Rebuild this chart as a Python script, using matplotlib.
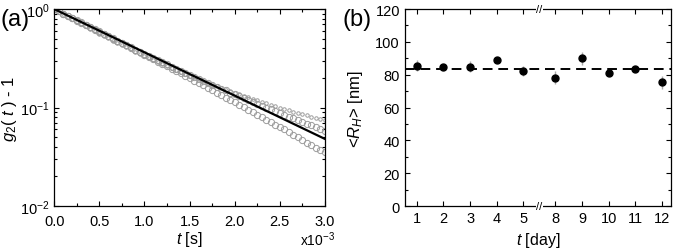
import numpy as np
import matplotlib
matplotlib.use("Agg")
import matplotlib.pyplot as plt
from matplotlib.ticker import MultipleLocator, LogLocator, NullFormatter, FuncFormatter

plt.rcParams['font.family'] = ['Liberation Sans', 'DejaVu Sans']
plt.rcParams['mathtext.fontset'] = 'custom'
plt.rcParams['mathtext.rm'] = 'Liberation Sans'
plt.rcParams['mathtext.it'] = 'Liberation Sans:italic'

# ---- panel (a): correlation functions, t in ms (axis shown x10^-3 s)
t_ms = [0.00, 0.05, 0.10, 0.15, 0.20, 0.25, 0.30, 0.35, 0.40, 0.45,
        0.50, 0.55, 0.60, 0.65, 0.70, 0.75, 0.80, 0.85, 0.90, 0.95,
        1.00, 1.05, 1.10, 1.15, 1.20, 1.25, 1.30, 1.35, 1.40, 1.45,
        1.50, 1.55, 1.60, 1.65, 1.70, 1.75, 1.80, 1.85, 1.90, 1.95,
        2.00, 2.05, 2.10, 2.15, 2.20, 2.25, 2.30, 2.35, 2.40, 2.45,
        2.50, 2.55, 2.60, 2.65, 2.70, 2.75, 2.80, 2.85, 2.90, 2.95, 3.00]

g_top = [1.000, 0.942, 0.887, 0.836, 0.789, 0.744, 0.703, 0.665, 0.628, 0.594,
         0.562, 0.532, 0.505, 0.479, 0.454, 0.431, 0.409, 0.389, 0.370, 0.352,
         0.335, 0.319, 0.304, 0.290, 0.277, 0.264, 0.252, 0.241, 0.231, 0.221,
         0.211, 0.202, 0.194, 0.186, 0.179, 0.172, 0.165, 0.158, 0.152, 0.147,
         0.141, 0.136, 0.131, 0.127, 0.122, 0.118, 0.114, 0.110, 0.107, 0.103,
         0.100, 0.097, 0.094, 0.091, 0.089, 0.086, 0.084, 0.081, 0.079, 0.077, 0.075]

g_mid = [1.000, 0.947, 0.896, 0.849, 0.804, 0.762, 0.723, 0.685, 0.650, 0.616,
         0.585, 0.555, 0.527, 0.500, 0.475, 0.451, 0.429, 0.408, 0.388, 0.369,
         0.351, 0.334, 0.317, 0.302, 0.288, 0.274, 0.261, 0.249, 0.237, 0.226,
         0.216, 0.206, 0.196, 0.187, 0.179, 0.171, 0.163, 0.156, 0.149, 0.142,
         0.136, 0.130, 0.124, 0.119, 0.114, 0.109, 0.104, 0.100, 0.096, 0.092,
         0.088, 0.084, 0.081, 0.078, 0.074, 0.071, 0.068, 0.066, 0.063, 0.061, 0.058]

g_low = [1.000, 0.950, 0.901, 0.855, 0.812, 0.770, 0.731, 0.694, 0.658, 0.624,
         0.592, 0.561, 0.532, 0.504, 0.478, 0.453, 0.429, 0.406, 0.385, 0.364,
         0.345, 0.327, 0.309, 0.293, 0.277, 0.262, 0.248, 0.235, 0.222, 0.210,
         0.199, 0.188, 0.178, 0.168, 0.159, 0.150, 0.142, 0.134, 0.126, 0.119,
         0.113, 0.106, 0.101, 0.095, 0.090, 0.085, 0.080, 0.075, 0.071, 0.067,
         0.063, 0.060, 0.056, 0.053, 0.050, 0.047, 0.044, 0.042, 0.039, 0.037, 0.035]

fit_t_ms = [0.0, 3.0]
fit_g = [1.0, 0.048]

# ---- panel (b): hydrodynamic radius over days
days = ['1', '2', '3', '4', '5', '8', '9', '10', '11', '12']
rh = [85.5, 84.7, 84.9, 89.0, 82.5, 78.2, 90.0, 81.0, 83.7, 75.4]
rh_err = [3.2, 1.5, 3.5, 1.0, 3.0, 3.8, 3.8, 2.0, 1.5, 4.0]
rh_mean = 83.5

fig = plt.figure(figsize=(6.77, 2.51), dpi=100)
axa = fig.add_axes([0.080, 0.175, 0.400, 0.785])
axb = fig.add_axes([0.598, 0.175, 0.393, 0.785])

gray = '#9c9c9c'
axa.plot(t_ms, g_top, 'o', ms=2.5, mfc='none', mec=gray, mew=0.7)
axa.plot(t_ms, g_mid, 'o', ms=4.5, mfc='none', mec=gray, mew=0.7)
axa.plot(t_ms, g_low, 'o', ms=4.5, mfc='none', mec=gray, mew=0.7)
axa.plot(fit_t_ms, fit_g, '-', color='black', lw=1.6)

axa.set_yscale('log')
axa.set_xlim(0, 3.0)
axa.set_ylim(1e-2, 1)
axa.xaxis.set_major_locator(MultipleLocator(0.5))
axa.xaxis.set_minor_locator(MultipleLocator(0.25))
axa.xaxis.set_major_formatter(FuncFormatter(lambda v, p: f'{v:.1f}'))
axa.yaxis.set_major_locator(LogLocator(base=10, numticks=5))
axa.yaxis.set_minor_locator(LogLocator(base=10, subs=np.arange(2, 10), numticks=20))
axa.yaxis.set_minor_formatter(NullFormatter())
axa.yaxis.set_major_formatter(FuncFormatter(lambda v, p: r'10$^{%d}$' % round(np.log10(v))))
axa.set_xlabel(r'$\mathit{t}$ [s]', fontsize=11.5, labelpad=1)
axa.set_ylabel(r'$\mathit{g}_2$( $\mathit{t}$ ) - 1', fontsize=12)
axa.yaxis.set_label_coords(-0.13, 0.5)
axa.text(0.972, -0.2, r'x10$^{-3}$', transform=axa.transAxes, ha='center', va='baseline', fontsize=10)
fig.text(0.0, 0.965, '(a)', fontsize=17, ha='left', va='top')

# panel b: days 1-5 and 8-12, with a compressed gap at the axis break
gap = 1.2
x = [i if i < 5 else i - 1 + gap for i in range(len(days))]
axb.errorbar(x, rh, yerr=rh_err, fmt='o', color='black', ms=5,
             ecolor='#ababab', elinewidth=1, capsize=0)
axb.axhline(rh_mean, color='black', lw=1.4, ls=(0, (5, 3)))
axb.set_xlim(-0.45, x[-1] + 0.34)
axb.set_ylim(0, 120)
axb.set_xticks(x)
axb.set_xticklabels(days)
axb.yaxis.set_major_locator(MultipleLocator(20))
axb.yaxis.set_minor_locator(MultipleLocator(10))
axb.set_xlabel(r'$\mathit{t}$ [day]', fontsize=11.5, labelpad=4)
axb.set_ylabel(r'<$\mathit{R_H}$> [nm]', fontsize=12)
axb.yaxis.set_label_coords(-0.15, 0.5)
fig.text(0.506, 0.965, '(b)', fontsize=17, ha='left', va='top')

# axis break marks between day 5 and day 8
xb = (x[4] + x[5]) / 2
for yb in (0, 1):
    axb.text(xb, yb, '//', transform=axb.get_xaxis_transform(), ha='center', va='center',
             fontsize=8, bbox=dict(facecolor='white', edgecolor='none', pad=0.3), clip_on=False)

for ax in (axa, axb):
    ax.tick_params(which='both', direction='in', top=True, right=True, labelsize=10.5, width=0.8)
    ax.tick_params(which='major', length=3.5)
    ax.tick_params(which='minor', length=2)
    for s in ax.spines.values():
        s.set_linewidth(0.9)
axa.tick_params(axis='x', which='major', pad=5.5)
axb.tick_params(axis='x', which='minor', top=False, bottom=False)

fig.savefig('out.png', dpi=100)
